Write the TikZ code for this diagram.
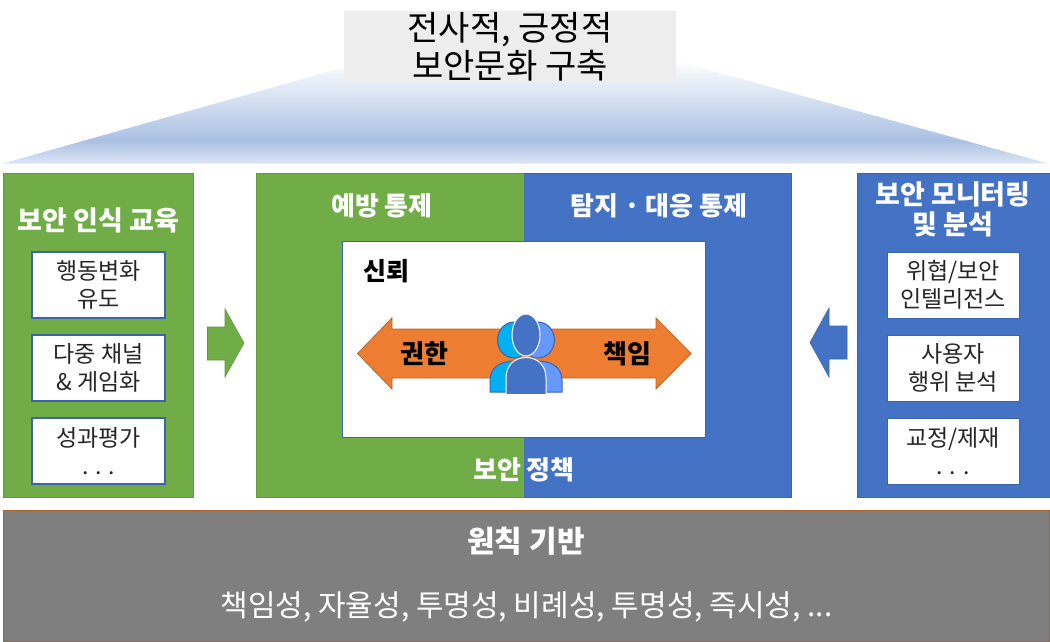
\documentclass[tikz,border=0pt]{standalone}
\usepackage{fontspec}
\setmainfont{Noto Sans CJK KR}
\usetikzlibrary{calc}
\definecolor{grn}{HTML}{70AD47}
\definecolor{grnd}{HTML}{5F9A3B}
\definecolor{blu}{HTML}{4472C4}
\definecolor{blud}{HTML}{3A64AE}
\definecolor{org}{HTML}{ED7D31}
\definecolor{orgd}{HTML}{B9652C}
\definecolor{gry}{HTML}{7F7F7F}
\definecolor{pyr}{HTML}{AAC0E3}
\definecolor{pyrl}{HTML}{DDE6F4}
\definecolor{ttl}{HTML}{EDEDED}
\definecolor{cyn}{HTML}{00B0F0}
\definecolor{lbl}{HTML}{6699FF}
\definecolor{bdr}{HTML}{AD5F2C}
\tikzset{
  x=1pt,y=-1pt,
  panelg/.style={fill=grn,draw=grnd,line width=1pt},
  panelb/.style={fill=blu,draw=blud,line width=1pt},
  itemg/.style={fill=white,draw=blud,line width=1.3pt},
  itemb/.style={fill=white,draw=blud,line width=0.6pt},
  itemtext/.style={font=\fontsize{23}{28}\selectfont,align=center,text=black!85,inner sep=0pt},
  headw/.style={font=\bfseries\fontsize{26}{30}\selectfont,align=center,text=white,inner sep=0pt},
  headk/.style={font=\bfseries\fontsize{26}{30}\selectfont,align=center,text=black,inner sep=0pt},
  person/.style={line width=1pt},
}
\begin{document}
\begin{tikzpicture}
\useasboundingbox (0,0) rectangle (1050,642);
% pyramid
\begin{scope}
  \clip (3,163.5) -- (345,67) -- (676,61) -- (1048,163.5) -- cycle;
  \shade[top color=white,bottom color=pyr] (0,60) rectangle (1050,140.5);
  \shade[top color=pyr,bottom color=pyrl] (0,140) rectangle (1050,164);
\end{scope}
\node[fill=ttl,minimum width=332pt,minimum height=71pt,inner sep=0pt,anchor=center,align=center,text=black,
  font=\fontsize{34}{38}\selectfont] (title) at (510,46.5) {전사적, 긍정적\\보안문화 구축};
% left panel
\draw[panelg] (3,173.5) rectangle (193.5,497);
\node[headw,font=\bfseries\fontsize{27}{30}\selectfont] (lefthead) at (98.5,220) {보안 인식 교육};
\draw[itemg] (32,252) rectangle (165,318);
\node[itemtext] (l1) at (98.5,285) {행동변화\\유도};
\draw[itemg] (32,335) rectangle (165,401);
\node[itemtext] (l2) at (98.5,368) {다중 채널\\\& 게임화};
\draw[itemg] (32,418) rectangle (165,484);
\node[itemtext] (l3) at (98.5,451.5) {성과평가\\. . .};
% left arrow
\draw[fill=grn,draw=grnd,line width=.6pt] (207.5,327) -- (225,327) -- (225,309) -- (244,343) -- (225,377) -- (225,360) -- (207.5,360) -- cycle;
% centre
\fill[grn] (256.5,173.5) rectangle (524,497);
\fill[blu] (524,173.5) rectangle (791.5,497);
\draw[grnd,line width=1pt] (524,173.5) -- (256.5,173.5) -- (256.5,497) -- (524,497);
\draw[blud,line width=1pt] (524,173.5) -- (791.5,173.5) -- (791.5,497) -- (524,497);
\node[headw] (prev) at (382,206) {예방 통제};
\node[headw] (det) at (659,206) {탐지 · 대응 통제};
\node[headw] (policy) at (524,470) {보안 정책};
\draw[fill=white,draw=blud,line width=1pt] (342.5,241) rectangle (705.5,437);
\node[headk,anchor=west,font=\bfseries\fontsize{25}{30}\selectfont] (trust) at (363,271) {신뢰};
% double arrow
\draw[fill=org,draw=orgd,line width=.8pt] (357.5,353.5) -- (392,318) -- (392,329) -- (656,329) -- (656,318) -- (691,353.5) -- (656,389) -- (656,378) -- (392,378) -- (392,389) -- cycle;
\node[headk] (auth) at (424,354) {권한};
\node[headk] (resp) at (627,354) {책임};
% people
\draw[person,fill=cyn,draw=blud] (490,392) -- (490,380) .. controls (490,368) and (500,361) .. (514,361) -- (530,361) -- (530,392) -- cycle;
\draw[person,fill=lbl,draw=blud] (562,392) -- (562,380) .. controls (562,368) and (552,361) .. (538,361) -- (522,361) -- (522,392) -- cycle;
\draw[person,fill=cyn,draw=blud] (514,340) ellipse [x radius=16.5,y radius=18];
\draw[person,fill=lbl,draw=blud] (538,340) ellipse [x radius=16.5,y radius=18];
\draw[person,fill=blu,draw=white] (506,394.5) -- (506,378) .. controls (506,366) and (514,357.5) .. (526,357.5) .. controls (538,357.5) and (546,366) .. (546,378) -- (546,394.5) -- cycle;
\draw[person,fill=blu,draw=white] (526,335) ellipse [x radius=14,y radius=21];
% right arrow
\draw[fill=blu,draw=blud,line width=.6pt] (847,326) -- (829,326) -- (829,308) -- (810,342.5) -- (829,377) -- (829,359) -- (847,359) -- cycle;
% right panel
\draw[panelb] (857.5,173.5) rectangle (1050,497);
\node[headw,font=\bfseries\fontsize{27}{30}\selectfont] (righthead) at (953,209.5) {보안 모니터링\\및 분석};
\draw[itemb] (887,252) rectangle (1019,318);
\node[itemtext] (r1) at (953,285) {위협/보안\\인텔리전스};
\draw[itemb] (887,335) rectangle (1019,401);
\node[itemtext] (r2) at (953,368) {사용자\\행위 분석};
\draw[itemb] (887,418) rectangle (1019,484);
\node[itemtext] (r3) at (953,451.5) {교정/제재\\. . .};
% bottom
\draw[fill=gry,draw=bdr,line width=1pt] (3,510.5) rectangle (1049,641);
\node[headw,font=\bfseries\fontsize{30}{32}\selectfont] (base) at (526,541) {원칙 기반};
\node[inner sep=0pt,text=white,font=\fontsize{30}{34}\selectfont] (prin) at (526.5,607) {책임성, 자율성, 투명성, 비례성, 투명성, 즉시성, ...};
\end{tikzpicture}
\end{document}
